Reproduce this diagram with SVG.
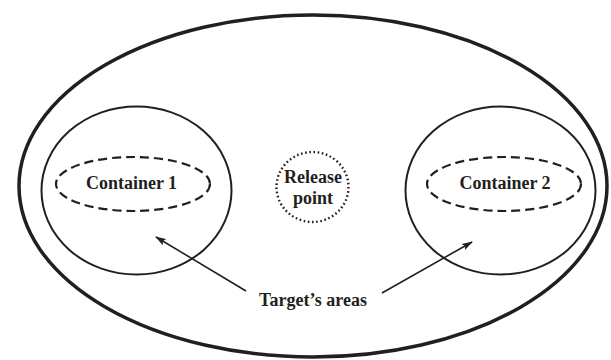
<svg xmlns="http://www.w3.org/2000/svg" width="611" height="360" viewBox="0 0 611 360">
<style>
  text { font-family: 'Liberation Serif', 'DejaVu Serif', serif; font-weight: 700; font-size: 18px; fill: #231f20; text-anchor: middle; }
  .ring { fill: none; stroke: #231f20; stroke-width: 2; }
  .dash { fill: none; stroke: #231f20; stroke-width: 2.2; stroke-dasharray: 9 5; }
  .dot { fill: none; stroke: #231f20; stroke-width: 2.4; stroke-dasharray: 1.6 2.6; }
  .conn { stroke: #231f20; stroke-width: 1.6; fill: none; marker-end: url(#ah); }
</style>
<defs>
  <marker id="ah" markerWidth="11" markerHeight="8" refX="10" refY="4" orient="auto" markerUnits="userSpaceOnUse">
    <path d="M0,0.5 L11,4 L0,7.5 L2,4 Z" fill="#231f20"/>
  </marker>
</defs>
<rect width="611" height="360" fill="#ffffff"/>
<g id="area">
  <ellipse cx="313" cy="186" rx="294" ry="171" fill="none" stroke="#231f20" stroke-width="3.5"/>
</g>
<g id="target1">
  <ellipse class="ring" cx="136.5" cy="190.5" rx="95" ry="84"/>
</g>
<g id="container1">
  <ellipse class="dash" cx="133" cy="184" rx="77" ry="27"/>
  <text x="131.5" y="189" font-family="Liberation Serif, serif">Container 1</text>
</g>
<g id="release">
  <ellipse class="dot" cx="312.5" cy="187" rx="36" ry="35"/>
  <text x="313" y="183" font-family="Liberation Serif, serif">Release</text>
  <text x="313" y="204" font-family="Liberation Serif, serif">point</text>
</g>
<g id="target2">
  <ellipse class="ring" cx="500.5" cy="190.5" rx="95" ry="84"/>
</g>
<g id="container2">
  <ellipse class="dash" cx="504" cy="184" rx="77" ry="27"/>
  <text x="505" y="189" font-family="Liberation Serif, serif">Container 2</text>
</g>
<g id="label">
  <text x="313" y="306" font-family="Liberation Serif, serif">Target’s areas</text>
</g>
<g id="connectors">
  <line class="conn" x1="246" y1="291" x2="156" y2="237"/>
  <line class="conn" x1="382" y1="293" x2="472" y2="242"/>
</g>
</svg>
